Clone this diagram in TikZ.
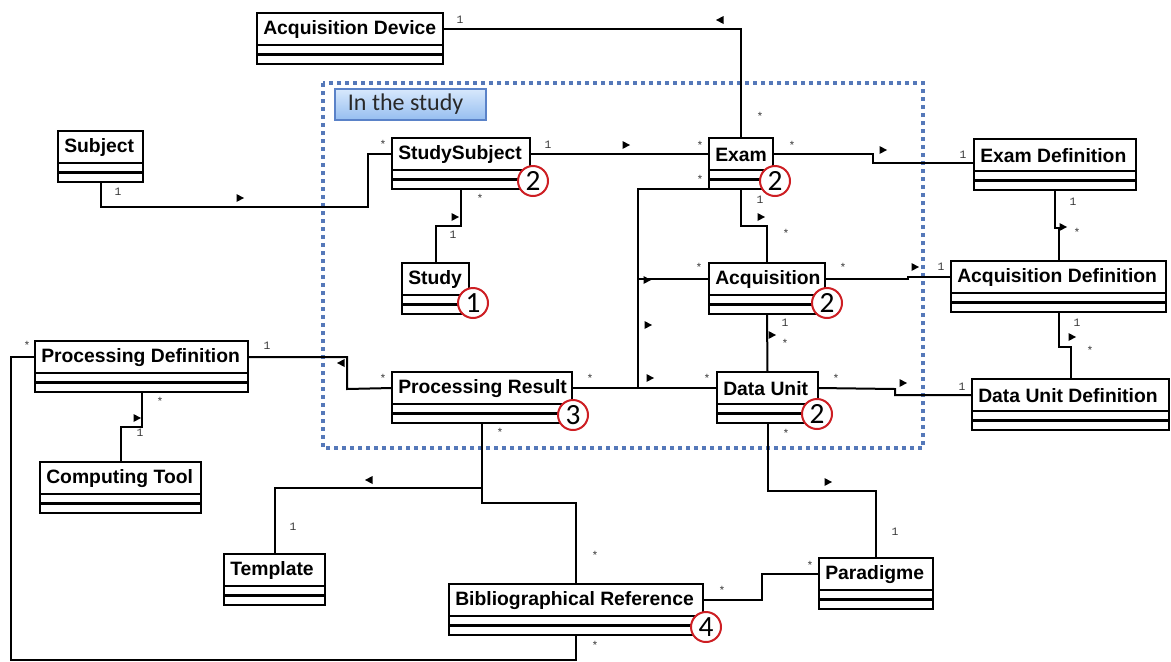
\documentclass[tikz,border=0pt]{standalone}
\usepackage{fontspec}
\setmainfont{Liberation Sans}
\newfontfamily\titlefont{Liberation Sans}
\newfontfamily\numfont{Carlito}
\newfontfamily\multfont{Liberation Mono}
\usetikzlibrary{calc}
\definecolor{dotblue}{RGB}{85,120,185}
\definecolor{lblA}{RGB}{215,232,252}
\definecolor{lblB}{RGB}{150,190,240}
\definecolor{lblborder}{RGB}{90,130,200}
\definecolor{numred}{RGB}{205,30,35}
\definecolor{multgray}{RGB}{55,55,55}
\definecolor{lbltext}{RGB}{40,40,40}
\tikzset{
  conn/.style={line width=1.5pt},
  ctitle/.style={draw, line width=1.7pt, fill=white, minimum height=24pt, inner sep=0pt, outer sep=0pt},
  ccomp/.style={draw, line width=1.7pt, fill=white, minimum height=14.25pt, inner sep=0pt, outer sep=0pt},
  ctext/.style={font=\titlefont\bfseries\fontsize{14.5}{16}\selectfont, inner sep=0pt, anchor=west},
  mult/.style={font=\multfont\fontsize{8.5}{9}\selectfont, text=multgray, inner sep=0pt},
  numc/.style={circle, draw=numred, line width=1.5pt, fill=white, minimum size=22.5pt, inner sep=0pt, font=\numfont\fontsize{22}{22}\selectfont},
  areabox/.style={draw=dotblue, line width=3pt, dash pattern=on 3pt off 3pt},
  lblbox/.style={draw=lblborder, line width=0.8pt, top color=lblA, bottom color=lblB, inner sep=0pt, outer sep=0pt},
  rtri/.pic={\fill (-3.5,-4) -- (4,0) -- (-3.5,4) -- cycle;},
  ltri/.pic={\fill (3.5,-4) -- (-4,0) -- (3.5,4) -- cycle;},
}
\newcommand\cls[5]{%
  \node[ctitle, minimum width=#4*0.75pt, anchor=north west] (#1) at (#2,#3) {};
  \node[ccomp, minimum width=#4*0.75pt, anchor=north west] (#1b) at (#1.south west) {};
  \draw[line width=1.7pt] (#1b.west) -- (#1b.east);
  \node[ctext] (#1t) at ([xshift=4.5pt,yshift=-0.6pt]#1.west) {#5};
}
\newcommand\ml[4]{\node[mult] (#1) at (#2,#3) {#4};}
\begin{document}
\begin{tikzpicture}[x=0.75pt,y=-0.75pt]
\useasboundingbox (0,0) rectangle (1171,661);

% study area
\draw[areabox] (323,83) rectangle (923,448);
\node[lblbox, anchor=north west, minimum width=151*0.75pt, minimum height=31*0.75pt] (lbl) at (335,89) {};
\node[font=\numfont\fontsize{18}{18}\selectfont, text=lbltext, anchor=west, inner sep=0pt] (lbltxt) at ([xshift=9.5pt]lbl.west) {In the study};

% classes
\cls{ad}{257}{13}{186}{Acquisition Device}
\cls{subj}{58}{131}{85}{Subject}
\cls{ss}{392}{138}{138}{StudySubject}
\cls{exam}{709}{138}{64}{Exam}
\cls{ed}{974}{139}{162}{Exam Definition}
\cls{study}{402}{263}{67}{Study}
\cls{acq}{709}{263}{116}{Acquisition}
\cls{acqdef}{951}{261}{215}{Acquisition Definition}
\cls{pd}{35}{341}{213}{Processing Definition}
\cls{pr}{392}{372}{180}{Processing Result}
\cls{du}{717}{372}{101}{Data Unit}
\cls{dud}{972}{379}{197}{Data Unit Definition}
\cls{ct}{40}{462}{161}{Computing Tool}
\cls{template}{224}{554}{101}{Template}
\cls{bib}{449}{584}{254}{Bibliographical Reference}
\cls{para}{819}{558}{114}{Paradigme}

% connectors
\draw[conn] (ad.east) -| (exam.north);
\coordinate (js0) at (368,207);
\draw[conn] (subjb.south) |- (js0) |- (ss.west);
\draw[conn] (ss.east) -- (exam.west);
\coordinate (js) at (435.5,226);
\draw[conn] (ssb.south) |- (js) -- (study.north);
\coordinate (j1) at (873,163);
\draw[conn] (exam.east) -| (j1) -- (ed.west |- j1);
\coordinate (j2) at (767,226);
\draw[conn] (examb.south) |- (j2) -- (acq.north);
\coordinate (jpr) at (638,389);
\draw[conn] (examb.south west) -| (jpr);
\draw[conn] (jpr |- acq.west) -- (acq.west);
\draw[conn] (pr.east) -- (du.west);
\coordinate (j3) at (908,279);
\draw[conn] (acq.east) -- (j3) |- (acqdef.west);
\draw[conn] (acqb.south) -- (du.north);
\coordinate (j4) at (895,389);
\draw[conn] (du.east) -- (j4) |- (dud.west);
\coordinate (j5) at (1058.5,228);
\draw[conn] (edb.south) |- (j5) -- (acqdef.north);
\coordinate (j6) at (1070.5,347);
\draw[conn] (acqdefb.south) |- (j6) -- (dud.north);
\coordinate (j7) at (347,389);
\draw[conn] (pd.east) -| (j7) -- (pr.west);
\coordinate (j8) at (120.5,427);
\draw[conn] (pdb.south) |- (j8) -- (ct.north);
\coordinate (jt) at (482,488);
\draw[conn] (prb.south) -- (jt) -| (template.north);
\coordinate (jb) at (482,503);
\draw[conn] (jt) -- (jb) -| (bib.north);
\coordinate (jl) at (11,660);
\draw[conn] (bibb.south) |- (jl) |- (pd.west);
\coordinate (jp) at (876,491);
\draw[conn] (dub.south) |- (jp) -- (para.north);
\coordinate (jr) at (762,600);
\draw[conn] (bib.east) -- (jr) |- (para.west);

% direction markers
\pic at (720,20) {ltri};
\pic at (240,198) {rtri};
\pic at (626,145) {rtri};
\pic at (455,217) {rtri};
\pic at (883,150) {rtri};
\pic at (761,217) {rtri};
\pic at (647,280) {rtri};
\pic at (648,325) {rtri};
\pic at (650,378) {rtri};
\pic at (915,267) {rtri};
\pic at (772,335) {rtri};
\pic at (903,383) {rtri};
\pic at (1063,227) {rtri};
\pic at (1072,337) {rtri};
\pic at (341,363) {ltri};
\pic at (137,418) {rtri};
\pic at (369,480) {ltri};
\pic at (828,482) {rtri};

% multiplicities
\ml{m1}{460}{20}{1}
\ml{m2}{760}{116}{*}
\ml{m3}{118}{192}{1}
\ml{m4}{383}{144}{*}
\ml{m5}{548}{145}{1}
\ml{m6}{700}{145}{*}
\ml{m7}{792}{145}{*}
\ml{m8}{963}{155}{1}
\ml{m9}{760}{200}{1}
\ml{m10}{786}{233}{*}
\ml{m11}{700}{179}{*}
\ml{m12}{699}{267}{*}
\ml{m13}{590}{378}{*}
\ml{m14}{707}{378}{*}
\ml{m15}{843}{267}{*}
\ml{m16}{941}{267}{1}
\ml{m17}{785}{323}{1}
\ml{m18}{785}{343}{*}
\ml{m19}{836}{378}{*}
\ml{m20}{962}{387}{1}
\ml{m21}{1073}{202}{1}
\ml{m22}{1077}{232}{*}
\ml{m23}{1077}{323}{1}
\ml{m24}{1090}{350}{*}
\ml{m25}{267}{346}{1}
\ml{m26}{383}{378}{*}
\ml{m27}{160}{401}{*}
\ml{m28}{140}{433}{1}
\ml{m29}{500}{432}{*}
\ml{m30}{293}{527}{1}
\ml{m31}{595}{555}{*}
\ml{m32}{595}{645}{*}
\ml{m33}{27}{345}{*}
\ml{m34}{786}{433}{*}
\ml{m35}{895}{532}{1}
\ml{m36}{722}{590}{*}
\ml{m37}{810}{565}{*}
\ml{m38}{453}{235}{1}
\ml{m39}{480}{198}{*}

% numbered circles
\node[numc] (n1) at (533,181) {2};
\node[numc] (n2) at (775,181) {2};
\node[numc] (n3) at (473,303) {1};
\node[numc] (n4) at (827,303) {2};
\node[numc] (n5) at (573,415) {3};
\node[numc] (n6) at (817,414) {2};
\node[numc] (n7) at (706,627) {4};
\end{tikzpicture}
\end{document}
